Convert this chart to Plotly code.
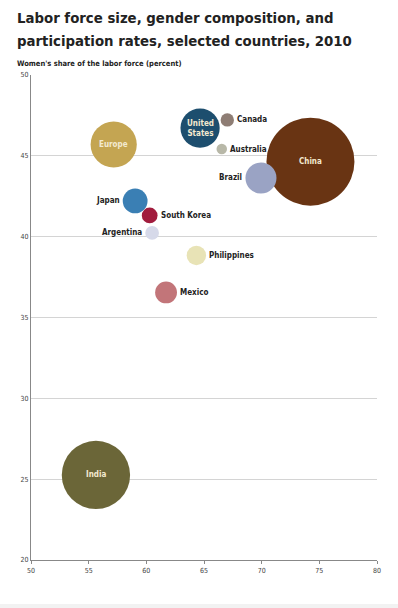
import plotly.graph_objects as go

countries = ["Europe", "United States", "Canada", "Australia", "China", "Brazil",
             "Japan", "South Korea", "Argentina", "Philippines", "Mexico", "India"]
participation = [57.17, 64.66, 67.02, 66.54, 74.23, 69.94,
                 59.03, 60.29, 60.50, 64.34, 61.71, 55.63]
women_share = [45.70, 46.72, 47.22, 45.42, 44.64, 43.63,
               42.21, 41.31, 40.23, 38.84, 36.55, 25.26]
labor_force = [215, 155, 18, 11, 780, 97, 62, 25, 19, 38, 48, 470]
colors = ["#C4A552", "#1D4E6E", "#8E7D74", "#B8B8A8", "#693413", "#9AA3C4",
          "#3A7FB4", "#A11C3D", "#D6D9E9", "#E8E3B6", "#C27579", "#6B6638"]
inside = {"Europe": "Europe", "United States": "United<br>States",
          "China": "China", "India": "India"}
outside_side = {"Canada": "right", "Australia": "right", "Brazil": "left",
                "Japan": "left", "South Korea": "right", "Argentina": "left",
                "Philippines": "right", "Mexico": "right"}

x_ticks = [50, 55, 60, 65, 70, 75, 80]
y_ticks = [20, 25, 30, 35, 40, 45, 50]
title_lines = ["Labor force size, gender composition, and",
               "participation rates, selected countries, 2010"]
subtitle = "Women's share of the labor force (percent)"

FONT = "DejaVu Sans Condensed, Liberation Sans Narrow, Roboto, Arial, sans-serif"
SIZEREF = 2 * 780 / 88 ** 2

fig = go.Figure()
fig.add_trace(go.Scatter(
    x=participation, y=women_share, mode="markers",
    marker=dict(size=labor_force, sizemode="area", sizeref=SIZEREF,
                color=colors, opacity=1, line=dict(width=0)),
    hoverinfo="text", text=countries, showlegend=False,
))

annotations = []
for c, xv, yv, s in zip(countries, participation, women_share, labor_force):
    r = (s / 2 / SIZEREF) ** 0.5
    if c in inside:
        annotations.append(dict(x=xv, y=yv, xref="x", yref="y", text="<b>" + inside[c] + "</b>",
                                showarrow=False, font=dict(family=FONT, size=8, color="#F3EAD0")))
    else:
        side = outside_side[c]
        annotations.append(dict(
            x=xv, y=yv, xref="x", yref="y", text="<b>" + c + "</b>", showarrow=False,
            xanchor="left" if side == "right" else "right",
            xshift=(r + 1) if side == "right" else -(r + 1),
            font=dict(family=FONT, size=8, color="#222222")))

# title lines (positions in px from top converted to paper coords)
for line, ypx in zip(title_lines, [18, 40]):
    annotations.append(dict(
        x=-16 / 346, y=1 + (75 - ypx) / 485, xref="paper", yref="paper",
        xanchor="left", yanchor="middle", text="<b>" + line + "</b>",
        showarrow=False, align="left", font=dict(family=FONT, size=14.8, color="#222222")))
annotations.append(dict(
    x=-16 / 346, y=1 + (75 - 63) / 485, xref="paper", yref="paper", xanchor="left", yanchor="middle",
    text="<b>" + subtitle + "</b>",
    showarrow=False, font=dict(family=FONT, size=7.5, color="#222222")))

fig.update_layout(
    width=398, height=608,
    margin=dict(l=31, r=21, t=75, b=48),
    paper_bgcolor="white", plot_bgcolor="white",
    annotations=annotations,
    xaxis=dict(range=[50, 80], tickvals=x_ticks, ticktext=[str(v) for v in x_ticks],
               showgrid=False, zeroline=False, showline=True, linecolor="#888888", linewidth=1.2,
               ticks="outside", ticklen=3, tickcolor="#888888",
               tickfont=dict(family=FONT, size=7, color="#444444"), fixedrange=True),
    yaxis=dict(range=[20, 50], tickvals=y_ticks, ticktext=[str(v) for v in y_ticks],
               showgrid=True, gridcolor="#D4D4D4", gridwidth=1, zeroline=False,
               showline=True, linecolor="#888888", linewidth=1.2, ticks="",
               tickfont=dict(family=FONT, size=7, color="#444444"), fixedrange=True),
    shapes=[dict(type="rect", xref="paper", yref="paper", x0=-0.2, x1=1.2,
                 y0=-44 / 485, y1=-60 / 485, fillcolor="#F2F2F2", line=dict(width=0), layer="below")],
)

fig.write_html("out.html")
